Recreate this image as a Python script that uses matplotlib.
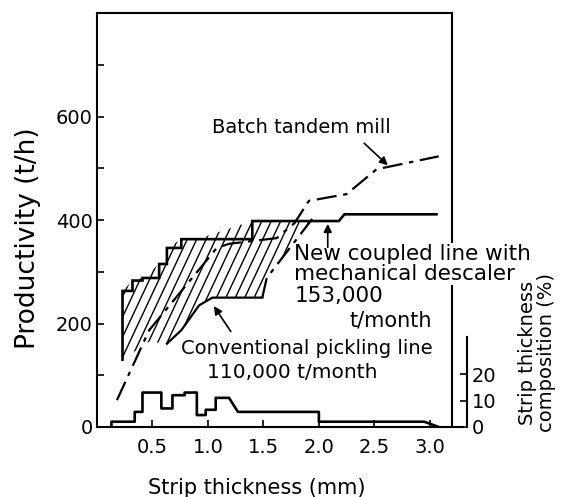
import numpy as np
import matplotlib
matplotlib.use("Agg")
import matplotlib.pyplot as plt
from matplotlib.patches import Polygon

# strip thickness (mm) vs productivity (t/h)
new_x = [0.23, 0.23, 0.32, 0.32, 0.41, 0.41, 0.56, 0.56, 0.63, 0.63, 0.76, 0.76, 0.90, 1.40, 1.40, 2.18, 2.23, 3.06]
new_y = [130, 263, 263, 283, 283, 288, 288, 315, 315, 346, 346, 363, 363, 363, 398, 398, 411, 411]

batch_x = [0.18, 0.47, 1.08, 1.19, 1.62, 1.78, 1.91, 2.25, 2.52, 3.08]
batch_y = [52, 187, 346, 354, 365, 394, 437, 450, 498, 523]

conv_x = [0.47, 0.63, 0.76, 0.92, 1.04, 1.49, 1.53, 1.94]
conv_y = [165, 161, 187, 235, 250, 250, 288, 402]

# thickness composition (%)
comp_x = [0.13, 0.13, 0.34, 0.34, 0.41, 0.41, 0.58, 0.58, 0.68, 0.68, 0.79, 0.79, 0.90, 0.90,
          0.98, 0.98, 1.07, 1.07, 1.19, 1.27, 2.00, 2.00, 2.95, 3.08]
comp_y = [0, 2, 2, 5.7, 5.7, 13, 13, 7, 7, 12, 12, 13, 13, 4.5,
          4.5, 6.5, 6.5, 11, 11, 5.7, 5.7, 2, 2, 0]

xticks = [0.5, 1.0, 1.5, 2.0, 2.5, 3.0]
yticks = [0, 200, 400, 600]
comp_ticks = [0, 10, 20]

W, H = 562, 497
fig = plt.figure(figsize=(W / 100, H / 100), dpi=100)
ax = fig.add_axes([97 / W, 1 - 427 / H, 355 / W, 414 / H])
ax.set_xlim(0, 3.2)
ax.set_ylim(0, 800)

# hatched band: new coupled line on top, conventional line below
top_x = [x for x in new_x if x <= 1.94] + [1.94]
top_y = list(np.interp(top_x, new_x[1:], new_y[1:]))
top_y[0] = 130
bot_x = [0.23] + conv_x
bot_y = [130] + conv_y
verts = list(zip(top_x, top_y)) + list(zip(bot_x[::-1], bot_y[::-1]))
band = Polygon(verts, closed=True, facecolor="none", edgecolor="none")
ax.add_patch(band)
slope = 457.0   # t/h per mm, steep hatch
for x0 in np.arange(-1.0, 3.2, 0.085):
    hl, = ax.plot([x0, x0 + 800 / slope], [0, 800], color="black", lw=1.0)
    hl.set_clip_path(band)

ax.plot(new_x, new_y, color="black", lw=1.9, solid_joinstyle="miter")
ax.plot(batch_x, batch_y, color="black", lw=1.6, linestyle=(0, (9, 3, 2, 3)))
ax.plot(conv_x[1:6], conv_y[1:6], color="black", lw=1.6)
ax.plot(conv_x[5:], conv_y[5:], color="black", lw=1.6, linestyle=(0, (9, 3, 2, 3)))

ax2 = ax.twinx()
ax2.set_ylim(0, 414 / 2.65)
ax2.plot(comp_x, comp_y, color="black", lw=1.9)
ax2.spines["right"].set_position(("outward", 11))
ax2.spines["right"].set_bounds(0, 34)
ax2.spines["right"].set_linewidth(1.5)
for s in ["top", "left", "bottom"]:
    ax2.spines[s].set_visible(False)
ax2.set_yticks(comp_ticks)
ax2.tick_params(axis="y", direction="in", length=5, width=1.2, labelsize=14, pad=3)
ax.plot([1, 1 + 11 / 355], [0, 0], transform=ax.transAxes, color="black", lw=1.5, clip_on=False)

ax.set_xticks(xticks)
ax.set_xticklabels([f"{t:.1f}" for t in xticks])
ax.set_yticks(yticks)
ax.set_yticks([100, 300, 500, 700], minor=True)
ax.tick_params(axis="both", which="both", direction="in", length=5, width=1.2, labelsize=14)
ax.tick_params(axis="y", pad=3)
ax.tick_params(axis="x", pad=8)
for s in ax.spines.values():
    s.set_linewidth(1.5)

fig.text(28 / W, 1 - 238 / H, "Productivity (t/h)", fontsize=19, rotation=90, ha="center", va="center")
fig.text(257 / W, 1 - 488 / H, "Strip thickness (mm)", fontsize=15, ha="center", va="center")
fig.text(537 / W, 1 - 432 / H, "Strip thickness\ncomposition (%)", fontsize=14, rotation=90,
         ha="center", va="bottom", linespacing=1.0)

ax.text(1.04, 579, "Batch tandem mill", fontsize=14, va="center")
ax.annotate("", xy=(2.64, 502), xytext=(2.39, 552),
            arrowprops=dict(arrowstyle="-|>", color="black", lw=1.2, mutation_scale=12))
ax.text(1.78, 315, "New coupled line with\nmechanical descaler", fontsize=15.5, va="center",
        linespacing=0.95, bbox=dict(facecolor="white", edgecolor="none", pad=1), clip_on=False)
ax.annotate("", xy=(2.08, 398), xytext=(2.08, 342),
            arrowprops=dict(arrowstyle="-|>", color="black", lw=1.2, mutation_scale=12))
ax.text(1.78, 254, "153,000", fontsize=15.5, va="center")
ax.text(3.02, 206, "t/month", fontsize=15, va="center", ha="right")
ax.text(0.76, 152, "Conventional pickling line", fontsize=14, va="center",
        bbox=dict(facecolor="white", edgecolor="none", pad=0))
ax.text(0.99, 106, "110,000 t/month", fontsize=14.5, va="center")
ax.annotate("", xy=(1.04, 238), xytext=(1.22, 180),
            arrowprops=dict(arrowstyle="-|>", color="black", lw=1.2, mutation_scale=12))

fig.savefig("out.png", dpi=100)
